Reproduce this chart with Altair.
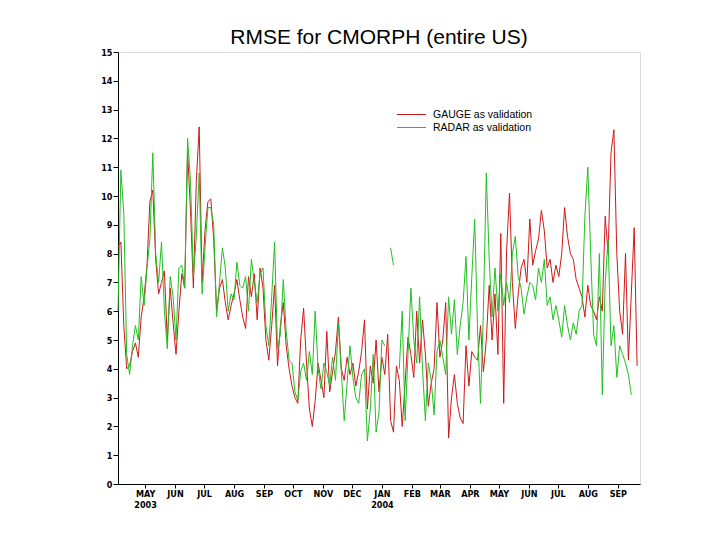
import altair as alt
import pandas as pd

# ---------------- data ----------------
start_date = "2003-04-03"
step_days = 3
x_domain = ["2003-04-03", "2004-09-24"]
month_ticks_start = "2003-05-01"
month_ticks_end = "2004-09-01"

series_names = ["GAUGE as validation", "RADAR as validation"]
series_colors = ["#d01818", "#22c022"]

gauge = [
    8.2, 8.4, 5.5, 4.0, 4.1, 4.6, 4.9, 4.4, 5.8, 6.5,
    7.6, 9.8, 10.2, 7.8, 6.6, 7.0, 7.4, 5.0, 6.8, 5.6,
    4.5, 6.0, 7.3, 6.8, 11.5, 9.5, 6.8, 10.5, 12.4, 7.0,
    8.8, 9.8, 9.9, 8.5, 6.0, 6.8, 7.1, 6.3, 5.7, 6.2,
    6.6, 7.1, 6.4, 5.8, 5.4, 7.2, 6.5, 7.3, 5.7, 7.5,
    6.8, 5.0, 4.3, 5.5, 6.9, 4.1, 5.5, 6.3, 4.8, 4.0,
    3.4, 3.0, 2.8, 5.0, 6.1, 4.2, 2.6, 2.0, 2.9, 4.2,
    3.6, 3.0, 5.3, 3.2, 3.9, 4.6, 5.8, 4.0, 3.6, 4.4,
    3.8, 4.2, 3.4, 3.9, 4.6, 5.7, 2.6, 4.1, 3.5, 5.0,
    3.2, 4.4, 3.8, 5.2, 2.2, 1.8, 4.1, 3.6, 2.0, 3.5,
    5.1, 4.5, 3.7, 6.0, 4.2, 5.7, 4.5, 2.7, 3.5, 4.0,
    6.3, 4.4, 5.0, 6.3, 1.6, 3.0, 3.8, 2.8, 2.3, 2.1,
    4.8, 3.4, 4.6, 4.4, 4.3, 5.5, 3.9, 5.0, 6.9, 5.0,
    6.6, 4.5, 8.7, 2.8, 8.1, 10.1, 7.0, 5.4, 6.6, 7.5,
    7.8, 7.0, 9.2, 7.6, 8.1, 8.5, 9.5, 8.8, 7.5, 7.8,
    7.0, 7.6, 7.2, 8.0, 9.6, 8.6, 8.0, 7.8, 7.1, 6.8,
    6.5, 5.8, 6.9, 6.2, 6.0, 5.7, 6.5, 6.0, 9.3, 8.0,
    11.5, 12.3, 8.0, 6.0, 5.2, 8.0, 4.3, 6.6, 8.9, 4.1,
]

radar = [
    6.0, 10.9, 9.4, 4.5, 3.8, 4.8, 5.5, 5.0, 7.2, 6.2,
    7.5, 8.5, 11.5, 8.0, 7.0, 8.4, 6.0, 4.7, 7.2, 6.5,
    5.0, 7.5, 7.6, 6.8, 12.0, 10.5, 7.2, 8.6, 10.8, 6.6,
    8.2, 9.6, 9.6, 9.0, 5.8, 7.0, 8.2, 7.5, 6.0, 6.6,
    6.4, 7.7, 6.9, 6.8, 7.2, 6.0, 7.8, 7.0, 6.3, 7.3,
    7.5, 5.5, 4.8, 6.5, 8.4, 4.7, 5.2, 7.1, 5.3, 4.3,
    4.2, 3.2, 2.9, 3.9, 4.2, 3.6, 4.6, 3.8, 6.0, 4.0,
    3.3, 4.2, 3.9, 3.4, 4.4, 3.6, 5.6, 3.9, 2.2, 3.5,
    4.8, 3.7, 3.0, 2.8, 3.8, 4.0, 1.5, 2.6, 4.5, 1.8,
    2.5, 5.0, 4.8, None, 8.2, 7.6, None, 4.0, 6.0, 2.2,
    4.5, 6.8, 5.0, 4.2, 6.5, 4.0, 2.2, 4.2, 3.6, 2.4,
    4.6, 5.0, 4.4, 3.8, 6.5, 5.2, 6.4, 4.5, 5.5, 6.3,
    7.9, 5.0, 7.2, 9.2, 5.3, 2.8, 6.0, 10.8, 7.8, 5.8,
    7.5, 6.0, 7.3, 6.2, 7.0, 6.3, 8.0, 8.6, 7.2, 6.8,
    5.9, 6.5, 7.0, 6.9, 6.4, 7.5, 7.0, 7.8, 6.2, 6.5,
    5.7, 6.2, 5.7, 5.1, 6.2, 5.5, 5.0, 5.6, 5.2, 6.0,
    6.2, 9.3, 11.0, 8.0, 5.2, 4.8, 8.0, 3.1, 7.0, 8.5,
    4.8, 5.5, 3.7, 4.8, 4.5, 4.2, 3.8, 3.1, None, None,
]

y_ticks = list(range(0, 16))

# ---------------- table ----------------
dates = pd.date_range(start_date, periods=len(gauge), freq=f"{step_days}D")
rows = []
for name, vals in zip(series_names, [gauge, radar]):
    for d, v in zip(dates, vals):
        rows.append({"date": d.strftime("%Y-%m-%d"), "value": v, "series": name})
df = pd.DataFrame(rows)

def to_ms(s):
    return int(pd.Timestamp(s).value // 10**6)

month_vals = [to_ms(d) for d in pd.date_range(month_ticks_start, month_ticks_end, freq="MS")]
domain_ms = [to_ms(d) for d in x_domain]

tick_font = "Liberation Sans Narrow, DejaVu Sans Condensed, Liberation Sans, Arial"
text_font = "Liberation Sans, Arial"

label_expr = (
    "(utcmonth(datum.value) == 4 && utcyear(datum.value) == 2003) || utcmonth(datum.value) == 0"
    " ? [upper(utcFormat(datum.value, '%b')), utcFormat(datum.value, '%Y')]"
    " : upper(utcFormat(datum.value, '%b'))"
)

chart = (
    alt.Chart(df)
    .mark_line(strokeWidth=1, invalid="break-paths-filter-domains")
    .encode(
        x=alt.X(
            "date:T",
            scale=alt.Scale(type="utc", domain=domain_ms),
            axis=alt.Axis(
                values=month_vals,
                labelExpr=label_expr,
                title=None,
                grid=False,
                tickSize=4,
                tickColor="black",
                domainColor="black",
                labelFont=tick_font,
                labelFontSize=9,
                labelFontWeight="bold",
                labelColor="black",
                labelPadding=1,
                labelLineHeight=11,
                labelOverlap=False,
                labelFlush=False,
            ),
        ),
        y=alt.Y(
            "value:Q",
            scale=alt.Scale(domain=[0, 15], nice=False, zero=True),
            axis=alt.Axis(
                values=y_ticks,
                title=None,
                grid=False,
                tickSize=5,
                tickColor="black",
                domainColor="black",
                labelFont=tick_font,
                labelFontSize=9,
                labelFontWeight="bold",
                labelColor="black",
                labelPadding=1,
                labelOverlap=False,
            ),
        ),
        color=alt.Color(
            "series:N",
            scale=alt.Scale(domain=series_names, range=series_colors),
            legend=alt.Legend(
                orient="none",
                legendX=287,
                legendY=56,
                title=None,
                padding=0,
                symbolType="M-2.5,0H2.5",
                symbolSize=135,
                symbolStrokeWidth=1,
                labelFont=text_font,
                labelFontSize=10.5,
                labelColor="black",
                labelOffset=15,
                rowPadding=1,
            ),
        ),
    )
    .properties(
        width=522,
        height=432,
        title=alt.TitleParams(
            "RMSE for CMORPH (entire US)",
            fontSize=21,
            font=text_font,
            fontWeight="normal",
            color="black",
            anchor="middle",
            frame="group",
            baseline="alphabetic",
            offset=8,
            dy=25,
        ),
        autosize=alt.AutoSizeParams(type="none"),
        padding={"left": 110, "top": 44, "right": 70, "bottom": 50},
    )
    .configure_view(stroke="black", strokeWidth=1)
    .configure(background="white")
)

chart.save("out.html", embed_options={"renderer": "svg", "actions": False})
